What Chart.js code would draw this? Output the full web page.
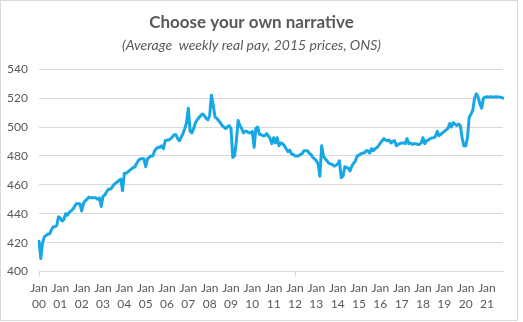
<!DOCTYPE html>
<html>
<head>
<meta charset="utf-8">
<script src="https://cdn.jsdelivr.net/npm/chart.js@4/dist/chart.umd.min.js"></script>
<style>
  body { margin: 0; background: #fff; }
  #frame { position: absolute; left: 0; top: 0; width: 516px; height: 319px; border: 1px solid #d9d9d9; }
  #chart { position: absolute; left: 0; top: 0; }
</style>
</head>
<body>
<div id="frame"></div>
<canvas id="chart" width="523" height="322"></canvas>
<script>
// average weekly real pay, 2015 prices (ONS), monthly Jan 2000 - Oct 2021
const years = ["00","01","02","03","04","05","06","07","08","09","10","11","12","13","14","15","16","17","18","19","20","21"];
const months = ["Jan","Feb","Mar","Apr","May","Jun","Jul","Aug","Sep","Oct","Nov","Dec"];

const pay2000 = [421, 409, 420, 424, 425, 426, 426, 429, 431, 431, 432, 438];
const pay2001 = [437, 435, 436, 440, 439, 441, 442, 443, 445, 447, 447, 447];
const pay2002 = [442, 447, 449, 450, 451.5, 451, 451, 451, 451, 450, 451, 445];
const pay2003 = [452, 453, 455, 457, 457, 458, 460, 461, 462, 463, 464, 456];
const pay2004 = [468, 468, 469, 470, 471, 472, 472.5, 475, 477, 478, 478, 478];
const pay2005 = [472.5, 478, 479, 480, 480, 483.5, 485, 486, 486, 487, 485, 490.5];
const pay2006 = [491, 491, 492, 493, 494.7, 494.7, 492, 490.5, 493, 495.5, 499, 503];
const pay2007 = [513, 497, 496, 499, 503, 505, 506.6, 508, 509, 508, 506, 505];
const pay2008 = [508, 522, 515, 507, 506, 504.5, 503, 501, 500, 499, 500, 501];
const pay2009 = [499, 479, 480, 490, 504.5, 501, 499, 496, 497, 497, 496, 496];
const pay2010 = [497, 486, 499, 500, 495, 494.7, 494, 494, 495.4, 494, 492, 488.5];
const pay2011 = [492.6, 489, 492.6, 487, 489, 488.5, 487, 485, 483, 484, 481.5, 481];
const pay2012 = [480, 480, 480, 481, 481.6, 483.6, 483.6, 483.6, 482, 481, 479, 478];
const pay2013 = [476.6, 474.5, 466, 487, 480, 478, 476.6, 475, 474.5, 474, 473, 473.5];
const pay2014 = [474.5, 476.6, 465, 466, 472.5, 472, 471.6, 469.7, 473, 475, 476.6, 480];
const pay2015 = [480.5, 481.5, 482, 482, 483.6, 483.6, 482, 485, 483.6, 485, 485.7, 487];
const pay2016 = [489, 490.5, 492, 491, 490.5, 491, 489, 490, 490.5, 487, 488, 488.5];
const pay2017 = [489, 489, 488.5, 492, 488.5, 489, 488, 488.5, 488.5, 488, 488, 489];
const pay2018 = [492.6, 488.5, 490.5, 491, 492, 492.5, 492.6, 493.4, 497, 494, 495, 496];
const pay2019 = [497, 498, 499, 502.4, 500, 503, 502, 501, 502, 501, 492.6, 487];
const pay2020 = [487, 492.6, 506.6, 509, 511.5, 520, 523, 520.7, 516, 513, 520, 520.7];
const pay2021 = [521, 520.7, 521, 520.7, 520.7, 521, 520.7, 520.7, 520.5, 520];

const yTicks = [400, 420, 440, 460, 480, 500, 520, 540];

const pay = [].concat(pay2000, pay2001, pay2002, pay2003, pay2004, pay2005, pay2006, pay2007,
  pay2008, pay2009, pay2010, pay2011, pay2012, pay2013, pay2014, pay2015, pay2016, pay2017,
  pay2018, pay2019, pay2020, pay2021);

const labels = [];
years.forEach(y => months.forEach(m => labels.push(m + " " + y)));
labels.length = pay.length;

const grey = "#d9d9d9";
const txt = "#595959";

new Chart(document.getElementById("chart"), {
  type: "line",
  data: {
    labels: labels,
    datasets: [{
      data: pay,
      borderColor: "#17a7e4",
      borderWidth: 3,
      borderJoinStyle: "round",
      borderCapStyle: "round",
      pointRadius: 0,
      tension: 0,
      fill: false
    }]
  },
  options: {
    responsive: false,
    animation: false,
    layout: { padding: { top: 0, right: 20, bottom: 7, left: 0 } },
    plugins: {
      legend: { display: false },
      tooltip: { enabled: false },
      title: {
        display: true,
        text: "Choose your own narrative",
        color: txt,
        font: { family: "Lato", size: 17, weight: "bold" },
        padding: { top: 12, bottom: 5 }
      },
      subtitle: {
        display: true,
        text: "(Average  weekly real pay, 2015 prices, ONS)",
        color: txt,
        font: { family: "Lato", size: 14, style: "italic" },
        padding: { top: 0, bottom: 15 }
      }
    },
    scales: {
      x: {
        type: "category",
        offset: false,
        grid: {
          drawOnChartArea: false,
          drawTicks: true,
          tickLength: 5,
          tickColor: ctx => (ctx.index % 12 === 0 ? grey : "rgba(0,0,0,0)")
        },
        border: { display: true, color: grey },
        ticks: {
          autoSkip: false,
          maxRotation: 0,
          minRotation: 0,
          padding: 3,
          color: txt,
          font: { family: "Lato", size: 12, lineHeight: 1.35 },
          callback: function (value, index) {
            if (index % 12 !== 0) return null;
            return this.getLabelForValue(value).split(" ");
          }
        }
      },
      y: {
        min: 400,
        max: 540,
        afterFit: s => { s.width = 39; },
        afterBuildTicks: s => { s.ticks = yTicks.map(v => ({ value: v })); },
        grid: { color: grey, drawTicks: false },
        border: { display: false },
        ticks: {
          padding: 11,
          color: txt,
          font: { family: "Lato", size: 12 }
        }
      }
    }
  }
});
</script>
</body>
</html>
